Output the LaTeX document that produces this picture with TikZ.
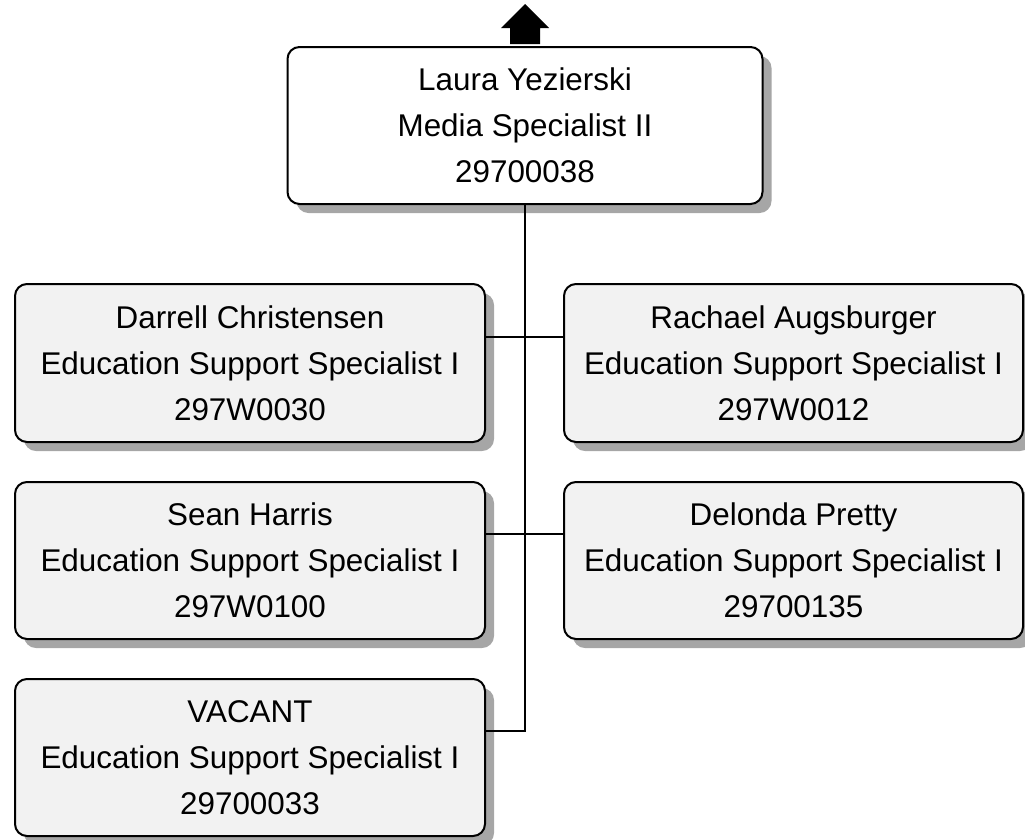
\documentclass[tikz,border=0pt]{standalone}
\usepackage{fontspec}
\setmainfont{Liberation Sans}
\usetikzlibrary{shadows,calc}
\definecolor{boxfill}{RGB}{242,242,242}
\definecolor{shadowgray}{RGB}{166,166,166}
\begin{document}
\begin{tikzpicture}[x=1pt,y=-1pt,
  card/.style={draw=black, line width=2pt, rounded corners=12pt, fill=boxfill,
    align=center, inner sep=0pt, font=\fontsize{31.4}{46}\selectfont,
    drop shadow={shadow xshift=9pt, shadow yshift=-9pt, fill=shadowgray, opacity=1}},
  topcard/.style={card, fill=white},
  conn/.style={draw=black, line width=2pt},
  uparrow/.style={fill=black}]
\useasboundingbox (0,0) rectangle (1025,839);

\node[topcard, minimum width=475pt, minimum height=157pt] (top) at (525,125.5)
  {Laura Yezierski\\ Media Specialist II\\ 29700038};

\node[card, minimum width=470pt, minimum height=158pt] (L1) at (250,363)
  {Darrell Christensen\\ Education Support Specialist I\\ 297W0030};
\node[card, minimum width=470pt, minimum height=157pt] (L2) at (250,560.5)
  {Sean Harris\\ Education Support Specialist I\\ 297W0100};
\node[card, minimum width=470pt, minimum height=157pt] (L3) at (250,757.5)
  {VACANT\\ Education Support Specialist I\\ 29700033};
\node[card, minimum width=459pt, minimum height=158pt] (R1) at (793.5,363)
  {Rachael Augsburger\\ Education Support Specialist I\\ 297W0012};
\node[card, minimum width=459pt, minimum height=157pt] (R2) at (793.5,560.5)
  {Delonda Pretty\\ Education Support Specialist I\\ 29700135};

\coordinate (a1) at ($(L1.north east)!0.335!(L1.south east)$);
\coordinate (b1) at ($(R1.north west)!0.335!(R1.south west)$);
\coordinate (a2) at ($(L2.north east)!0.335!(L2.south east)$);
\coordinate (b2) at ($(R2.north west)!0.335!(R2.south west)$);
\coordinate (a3) at ($(L3.north east)!0.335!(L3.south east)$);

\draw[conn] (top.south) |- (a3);
\draw[conn] (a1) -- (b1);
\draw[conn] (a2) -- (b2);

\fill[uparrow] (525,4) -- (549,28) -- (540,28) -- (540,44) -- (510,44) -- (510,28) -- (501,28) -- cycle;
\end{tikzpicture}
\end{document}
